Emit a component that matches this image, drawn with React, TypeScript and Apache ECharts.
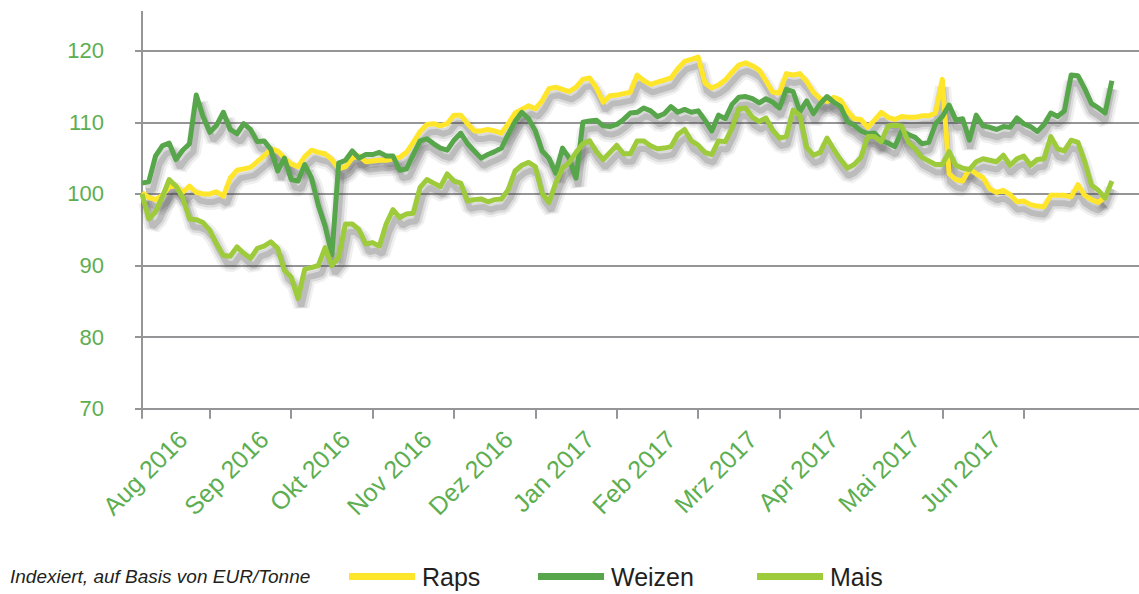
import React, { useEffect, useRef } from 'react';
import * as echarts from 'echarts';

// Month labels shown below the axis (placed mid-month)
const monthLabels = ['Aug 2016', 'Sep 2016', 'Okt 2016', 'Nov 2016', 'Dez 2016', 'Jan 2017', 'Feb 2017', 'Mrz 2017', 'Apr 2017', 'Mai 2017', 'Jun 2017'];
// Sample positions: 12 samples per month; month boundaries at these sample indices
const samplesPerMonth = 12;
const firstMonthBoundary = 10;
const labelOffsetInMonth = 8;
const sampleCount = 148;

const yTicks = [70, 80, 90, 100, 110, 120];

const raps = [
  100.2, 99.5, 99.2, 99.8, 101, 101.1, 100.2, 101.1, 100.2, 100,
  100, 100.3, 99.7, 102.2, 103.3, 103.5, 103.7, 104.5, 105.3, 106.3,
  106, 105, 104.2, 103.8, 105.2, 106.1, 105.8, 105.6, 104.8, 103.5,
  103.8, 105, 105.3, 104.5, 104.6, 104.7, 104.7, 104.9, 105.1, 105.8,
  107.2, 108.7, 109.7, 109.8, 109.5, 109.8, 111, 111, 109.8, 108.8,
  108.8, 109, 108.8, 108.5, 109.8, 111.3, 111.8, 112.3, 111.9, 113,
  114.7, 114.9, 114.6, 114.3, 114.9, 116, 116.2, 114.8, 112.8, 113.7,
  113.8, 114, 114.2, 116.6, 115.8, 115.3, 115.6, 115.9, 116.2, 117.5,
  118.5, 118.8, 119.1, 115.5, 114.8, 115.2, 115.9, 117, 118, 118.3,
  117.9, 117.3, 115.8, 114.2, 114.1, 116.8, 116.6, 116.8, 115.7, 114.2,
  113.3, 112.9, 113.5, 113.1, 111.6, 110.5, 110.4, 109.3, 110.3, 111.4,
  110.7, 110.4, 110.8, 110.7, 110.7, 110.9, 110.9, 111.3, 116, 102.8,
  102, 101.8, 103.5, 102.8, 102.3, 100.7, 100.2, 100.5, 99.9, 98.9,
  99, 98.5, 98.3, 98.2, 99.8, 99.8, 99.8, 99.6, 101.3, 99.8,
  99.2, 98.8, 99.6, null,
];

const weizen = [
  101.5, 101.7, 105.3, 106.7, 107.1, 104.8, 106.1, 107, 113.8, 110.8,
  108.6, 109.6, 111.4, 109, 108.4, 109.8, 109, 107.3, 107.4, 106.2,
  103.2, 105, 102, 101.8, 104.1, 102.2, 98.4, 95.5, 91.5, 104.3,
  104.7, 106, 105, 105.5, 105.5, 105.8, 105.3, 105.3, 103.3, 103.5,
  105.5, 107.4, 107.7, 107, 106.4, 106.1, 107.5, 108.5, 107, 106,
  105, 105.5, 105.9, 106.4, 108.3, 110.1, 111.4, 110.5, 108.8, 106,
  105, 102.9, 106.4, 105, 102.2, 110, 110.2, 110.3, 109.5, 109.4,
  109.7, 110.4, 111.3, 111.4, 112, 111.6, 110.8, 111.2, 112.2, 111.4,
  111.8, 111.4, 111.6, 110.3, 108.8, 111, 110.5, 112.5, 113.5, 113.6,
  113.3, 112.7, 113.3, 112.8, 112, 114.6, 114.3, 111.5, 113, 111.2,
  112.6, 113.6, 112.8, 112.2, 110.1, 109.6, 108.8, 108.4, 108.5, 107.5,
  107.1, 106.6, 108.8, 108.3, 107.9, 107, 107.2, 109.8, 110.8, 112.4,
  110.3, 110.5, 107.5, 111, 109.5, 109.3, 109, 109.4, 109.3, 110.6,
  109.8, 109.4, 108.7, 109.7, 111.3, 110.8, 111.6, 116.6, 116.5, 114.7,
  112.6, 112, 111.3, 115.8,
];

const mais = [
  100, 96.5, 97.5, 99.6, 102, 101.1, 99.5, 96.5, 96.4, 96,
  94.9, 93, 91.4, 91.3, 92.6, 91.7, 91, 92.4, 92.7, 93.3,
  92.4, 89.3, 88.4, 85.4, 89.5, 89.7, 90, 92.5, 90, 91.2,
  95.8, 95.8, 95, 93, 93.2, 92.7, 95.8, 97.8, 96.7, 97.2,
  97.3, 100.9, 102, 101.5, 101, 102.8, 101.8, 101.5, 99, 99.2,
  99.3, 98.9, 99.2, 99.3, 100.6, 103.2, 104, 104.4, 103.8, 100.1,
  98.8, 101.5, 103.6, 104.4, 105.8, 107, 107.4, 105.9, 104.8, 105.8,
  106.8, 105.6, 105.6, 107.4, 107.4, 106.7, 106.3, 106.4, 106.6, 108.3,
  109, 107.4, 106.8, 105.8, 105.5, 107.4, 107.3, 109.2, 111.9, 112,
  110.7, 110.1, 110.6, 108.9, 107.8, 108, 111.7, 111, 106.5, 105.4,
  105.8, 107.8, 106.2, 104.8, 103.6, 104.1, 105.1, 108, 108, 107.3,
  109.5, 109.6, 109.5, 107.2, 106.3, 105.1, 104.6, 104.1, 104.1, 105.9,
  104, 103.6, 103.4, 104.5, 104.9, 104.7, 104.5, 105.4, 104, 104.9,
  105.3, 104, 104.8, 104.9, 108, 106.3, 106, 107.5, 107.2, 104.5,
  101.2, 100.5, 99.4, 101.8,
];

const seriesNames = ['Raps', 'Weizen', 'Mais'];
const seriesColors = ['#FFE62B', '#58A64B', '#9DCB3C'];
const seriesData = [raps, weizen, mais];

const labelAt: Record<number, string> = {};
monthLabels.forEach((m, k) => {
  labelAt[firstMonthBoundary - samplesPerMonth + labelOffsetInMonth + k * samplesPerMonth] = m;
});
const categories = Array.from({ length: sampleCount }, (_, i) => labelAt[i] ?? String(i));
const lastBoundary = firstMonthBoundary + samplesPerMonth * 10;
const isTick = (i: number) =>
  i === 0 || (i >= firstMonthBoundary && i <= lastBoundary && (i - firstMonthBoundary) % samplesPerMonth === 0);

const axisGray = '#959597';
const labelGreen = '#5DAE50';
const FONT = '"Liberation Sans", Arial, sans-serif';

// soft drop-shadow layers (drawn in an offset, hidden grid)
const shadowLayers = [
  { width: 16, color: 'rgba(70,70,70,0.08)' },
  { width: 11, color: 'rgba(70,70,70,0.13)' },
  { width: 6, color: 'rgba(70,70,70,0.2)' },
];

export default function App() {
  const ref = useRef<HTMLDivElement>(null);
  useEffect(() => {
    const chart = echarts.init(ref.current!, null, { renderer: 'svg' });
    const option: any = {
      animation: false,
      grid: [
        { left: 142, top: 50.7, width: 999.6, bottom: 185.3, containLabel: false },
        { left: 146, top: 58.7, width: 999.6, bottom: 177.3, containLabel: false },
      ],
      xAxis: [
        {
          type: 'category',
          gridIndex: 0,
          data: categories,
          boundaryGap: false,
          axisLine: { lineStyle: { color: axisGray, width: 2 } },
          axisTick: { show: true, length: 10, interval: (i: number) => isTick(i), lineStyle: { color: axisGray, width: 2 } },
          axisLabel: {
            interval: (i: number) => labelAt[i] !== undefined,
            rotate: 45,
            margin: 26,
            fontSize: 25,
            color: labelGreen,
            fontFamily: FONT,
          },
          splitLine: { show: false },
        },
        { type: 'category', gridIndex: 1, data: categories, boundaryGap: false, show: false },
      ],
      yAxis: [
        {
          type: 'value',
          gridIndex: 0,
          min: yTicks[0],
          max: yTicks[yTicks.length - 1],
          interval: 10,
          axisLine: { show: true, lineStyle: { color: axisGray, width: 2 } },
          axisTick: { show: true, length: 7, lineStyle: { color: axisGray, width: 2 } },
          axisLabel: { fontSize: 22, color: labelGreen, margin: 38, fontFamily: FONT },
          splitLine: { show: true, lineStyle: { color: axisGray, width: 2 } },
        },
        {
          type: 'value',
          gridIndex: 1,
          min: yTicks[0],
          max: yTicks[yTicks.length - 1],
          interval: 10,
          show: false,
          splitLine: { show: false },
        },
      ],
      legend: seriesNames.map((n, k) => ({
        data: [n],
        left: [344, 533, 752][k],
        top: 559,
        icon: 'rect',
        itemWidth: 66,
        itemHeight: 7,
        itemGap: 0,
        textStyle: { fontSize: 25, color: '#231F20', fontFamily: FONT, padding: [0, 0, 0, 2] },
      })),
      graphic: [
        {
          type: 'line',
          shape: { x1: 142, y1: 11, x2: 142, y2: 51 },
          style: { stroke: axisGray, lineWidth: 2 },
          silent: true,
        },
        {
          type: 'text',
          left: 10,
          top: 567,
          style: {
            text: 'Indexiert, auf Basis von EUR/Tonne',
            fontSize: 19,
            fontStyle: 'italic',
            fontFamily: FONT,
            fill: '#231F20',
          },
        },
      ],
      series: [
        ...seriesNames.flatMap((n, k) =>
          shadowLayers.map((s, j) => ({
            name: n + '-s' + j,
            type: 'line',
            xAxisIndex: 1,
            yAxisIndex: 1,
            data: seriesData[k],
            showSymbol: false,
            z: 1,
            lineStyle: { color: s.color, width: s.width },
          }))
        ),
        ...seriesNames.map((n, k) => ({
          name: n,
          type: 'line',
          xAxisIndex: 0,
          yAxisIndex: 0,
          data: seriesData[k],
          showSymbol: false,
          symbol: 'none',
          connectNulls: false,
          z: 3,
          itemStyle: { color: seriesColors[k] },
          lineStyle: { color: seriesColors[k], width: 5, join: 'round' },
        })),
      ],
    };
    chart.setOption(option);
    return () => chart.dispose();
  }, []);
  return <div ref={ref} style={{ position: 'absolute', left: 0, top: 0, width: 1139, height: 594 }} />;
}
